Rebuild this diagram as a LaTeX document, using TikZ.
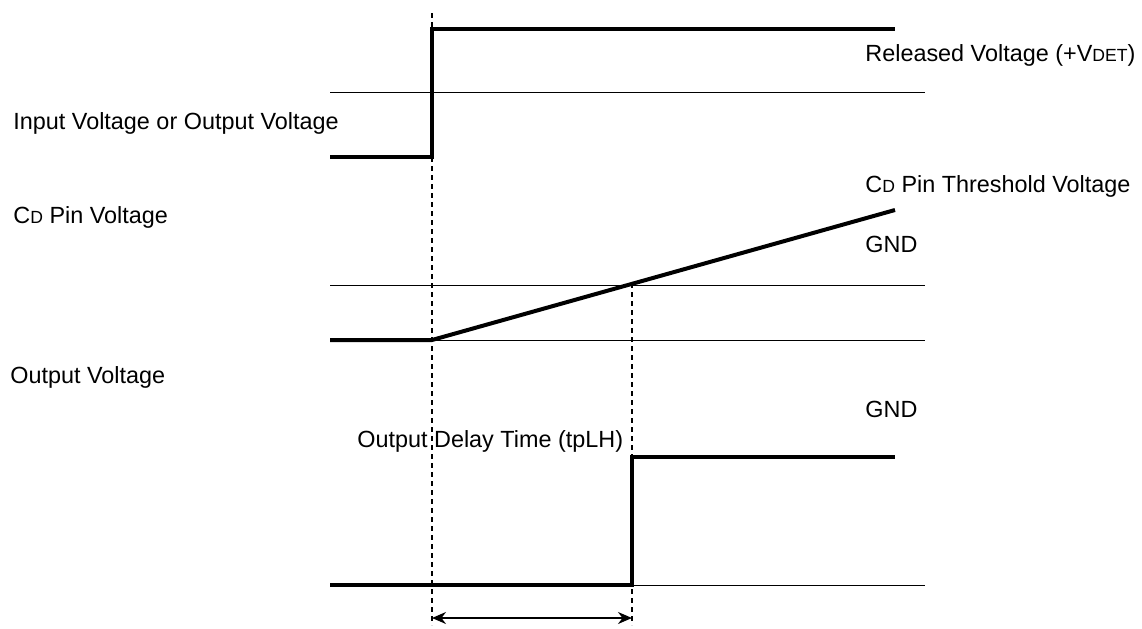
\documentclass[tikz,border=0pt]{standalone}
\usepackage{fontspec}
\setmainfont{Liberation Sans}
\usetikzlibrary{arrows.meta}

\newcommand{\smcap}[1]{{\fontsize{8.8}{10}\selectfont #1}}

\begin{document}
\begin{tikzpicture}[x=0.5pt, y=-0.5pt, font=\fontsize{11.7}{14}\selectfont,
  sig/.style={line width=2pt, line join=miter},
  refline/.style={line width=0.5pt},
  guide/.style={line width=0.65pt, dash pattern=on 2.5pt off 2pt},
  lbl/.style={anchor=base west, inner sep=0pt}]
\useasboundingbox (0,0) rectangle (1142,628);

% reference levels
\foreach \y in {92, 285, 340, 585}{\draw[refline] (330,\y) -- (925,\y);}

% time markers
\coordinate (t1top) at (432,13);
\coordinate (t1bot) at (432,625);
\coordinate (t2top) at (632,283);
\coordinate (t2bot) at (632,625);
\draw[guide] (t1top) -- (t1bot);
\draw[guide] (t2top) -- (t2bot);

% signals
\draw[sig] (330,157) -- (432,157) -- (432,29) -- (895,29);
\draw[sig] (330,340) -- (432,340) -- (895,210);
\draw[sig] (330,585) -- (632,585) -- (632,457) -- (895,457);

% delay arrow
\coordinate (dl) at (432,618);
\coordinate (dr) at (632,618);
\draw[line width=0.7pt, {Stealth[length=7pt,width=6pt]}-{Stealth[length=7pt,width=6pt]}] (dl) -- (dr);

% labels
\node[lbl] (released) at (865,61) {Released Voltage (+V\smcap{DET})};
\node[lbl] (inout) at (13,129) {Input Voltage or Output Voltage};
\node[lbl] (cdthr) at (865,192) {C\smcap{D} Pin Threshold Voltage};
\node[lbl] (cdpin) at (13,223) {C\smcap{D} Pin Voltage};
\node[lbl] (gnda) at (865,252) {GND};
\node[lbl] (outv) at (10,383) {Output Voltage};
\node[lbl] (gndb) at (865,417) {GND};
\node[lbl] (delay) at (357,447) {Output Delay Time (tpLH)};

\end{tikzpicture}
\end{document}
